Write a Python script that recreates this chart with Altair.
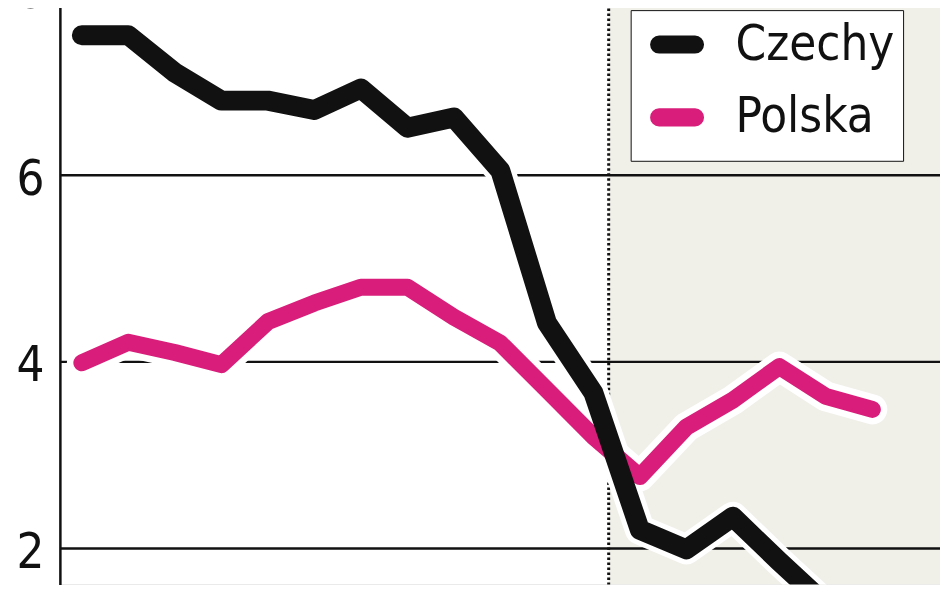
import altair as alt
import pandas as pd

# --- data ---
idx = list(range(18))
czechy = [7.50, 7.50, 7.10, 6.80, 6.80, 6.70, 6.93, 6.51, 6.62, 6.05, 4.42, 3.67,
          2.20, 1.99, 2.34, 1.86, 1.40, 1.10]
polska = [3.99, 4.21, 4.10, 3.97, 4.43, 4.63, 4.80, 4.80, 4.48, 4.20, 3.70, 3.20,
          2.77, 3.30, 3.59, 3.95, 3.63, 3.49]
series_names = ["Czechy", "Polska"]
series_colors = ["#111111", "#d81e7a"]
grid_values = [2, 4, 6, 8]
shade_start = [11.33]
x_domain = [-0.472, 18.455]
y_domain = [1.615, 8.0]

rows = []
for i, c, p in zip(idx, czechy, polska):
    rows.append({"i": i, "v": c, "s": "Czechy"})
    rows.append({"i": i, "v": p, "s": "Polska"})
df = pd.DataFrame(rows)

shade_df = pd.DataFrame({"x1": shade_start, "x2": [x_domain[1]],
                         "y1": [y_domain[0]], "y2": [y_domain[1]]})
grid_df = pd.DataFrame({"g": grid_values})
rule_df = pd.DataFrame({"x": shade_start})

FONT = "'DejaVu Sans Condensed', 'Liberation Sans Narrow', 'Roboto', sans-serif"

xs = alt.Scale(domain=x_domain, nice=False, zero=False)
ys = alt.Scale(domain=y_domain, nice=False, zero=False)
cs = alt.Scale(domain=series_names, range=series_colors)

shade = alt.Chart(shade_df).mark_rect(color="#f0efe8", clip=True).encode(
    x=alt.X("x1:Q", scale=xs, axis=None),
    x2="x2:Q",
    y=alt.Y("y1:Q", scale=ys,
            axis=alt.Axis(values=grid_values, format="d", grid=False, ticks=False,
                          domain=True, domainColor="#111", domainWidth=2.5,
                          labelFont=FONT, labelFontSize=49, labelColor="#111",
                          labelPadding=16, labelOffset=4, title=None,
                          labelFlush=False)),
    y2="y2:Q",
)

grid = alt.Chart(grid_df).mark_rule(color="#111", strokeWidth=2.4, clip=True).encode(
    y=alt.Y("g:Q", scale=ys),
)

vrule = alt.Chart(rule_df).mark_rule(color="#111", strokeWidth=3,
                                      strokeDash=[2.5, 2.5]).encode(
    x=alt.X("x:Q", scale=xs),
)

halo = alt.Chart(df).mark_line(color="white", strokeWidth=30, strokeCap="round",
                                strokeJoin="round", clip=True).encode(
    x=alt.X("i:Q", scale=xs),
    y=alt.Y("v:Q", scale=ys),
    detail="s:N",
)

legend = alt.Legend(
    title=None, orient="none", legendX=572, legendY=21.5,
    labelFont=FONT, labelFontSize=49, labelColor="#111", labelLimit=400,
    symbolType="M-1,-0.03L1,-0.03A0.03,0.03 0 0 1 1,0.03L-1,0.03A0.03,0.03 0 0 1 -1,-0.03Z",
    symbolSize=1296, symbolStrokeWidth=17, symbolOffset=12, labelOffset=32,
    rowPadding=2, padding=8,
    strokeColor="#111", fillColor="white",
)


def series_line(name, width):
    return alt.Chart(df).transform_filter(alt.datum.s == name).mark_line(
        strokeWidth=width, strokeCap="round", strokeJoin="round", clip=True
    ).encode(
        x=alt.X("i:Q", scale=xs),
        y=alt.Y("v:Q", scale=ys),
        color=alt.Color("s:N", scale=cs, legend=legend),
    )


chart = alt.layer(
    shade, grid, vrule, halo,
    series_line("Polska", 17), series_line("Czechy", 20),
).properties(
    width=882, height=597,
    padding={"left": 52, "top": -20, "right": 0, "bottom": 0},
    autosize=alt.AutoSizeParams(type="none"),
).configure_view(stroke=None).configure_legend(
    strokeDash=[8, 6], strokeWidth=2.8,
).configure(background="white")

chart.save("out.html", embed_options={"renderer": "svg", "actions": False})
